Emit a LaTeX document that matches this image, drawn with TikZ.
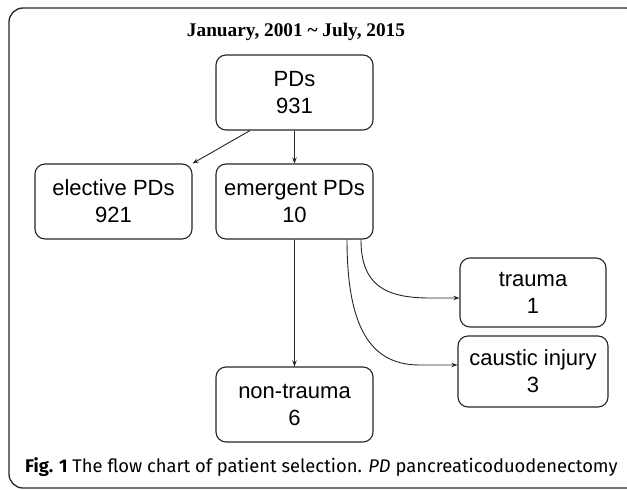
\documentclass[tikz,border=0pt]{standalone}
\usepackage{fontspec}
\setmainfont{Liberation Sans}
\newfontfamily\titlefont{Liberation Serif}
\newfontfamily\capfont{Fira Sans}
\usetikzlibrary{arrows.meta}
\begin{document}
\begin{tikzpicture}[x=1pt,y=-1pt,
  box/.style={draw=black!85, line width=1.1pt, rounded corners=10pt, align=center,
    inner sep=0pt, font=\fontsize{22}{27}\selectfont},
  conn/.style={draw=black!85, line width=0.9pt, -{Stealth[length=6pt,width=4.5pt]}}]
\useasboundingbox (0,0) rectangle (627,490);
\draw[black!85, line width=1.3pt, rounded corners=14pt] (9,8) rectangle (640,488);
\node[font=\titlefont\bfseries\fontsize{19.3}{23}\selectfont] (title) at (296,32) {January, 2001 \textasciitilde\ July, 2015};
\node[box, minimum width=157pt, minimum height=75pt] (pds) at (294.5,92.5) {PDs\\931};
\node[box, minimum width=157pt, minimum height=75pt] (elective) at (113.5,201.5) {elective PDs\\921};
\node[box, minimum width=157pt, minimum height=75pt] (emergent) at (294.5,201.5) {emergent PDs\\10};
\node[box, minimum width=146pt, minimum height=69pt] (trauma) at (533,292.5) {trauma\\1};
\node[box, minimum width=150pt, minimum height=71pt] (caustic) at (533,371.5) {caustic injury\\3};
\node[box, minimum width=157pt, minimum height=75pt] (nontrauma) at (294.5,404.5) {non-trauma\\6};
\node[anchor=base west, inner sep=0pt, font=\capfont\fontsize{18.35}{22}\selectfont] (caption) at (25,472)
  {\textbf{Fig. 1} The flow chart of patient selection. \textit{PD} pancreaticoduodenectomy};
\draw[conn] (pds.south -| 250,0) -- (elective.north east);
\draw[conn] (pds.south) -- (emergent.north);
\draw[conn] (emergent.south) -- (nontrauma.north);
\draw[conn] (emergent.south -| 361,0) .. controls (361,285) and (385,298) .. (430,298) -- (trauma.west |- 0,298);
\draw[conn] (emergent.south -| 347,0) .. controls (347,335) and (375,365) .. (420,365) -- (caustic.west |- 0,365);
\end{tikzpicture}
\end{document}
